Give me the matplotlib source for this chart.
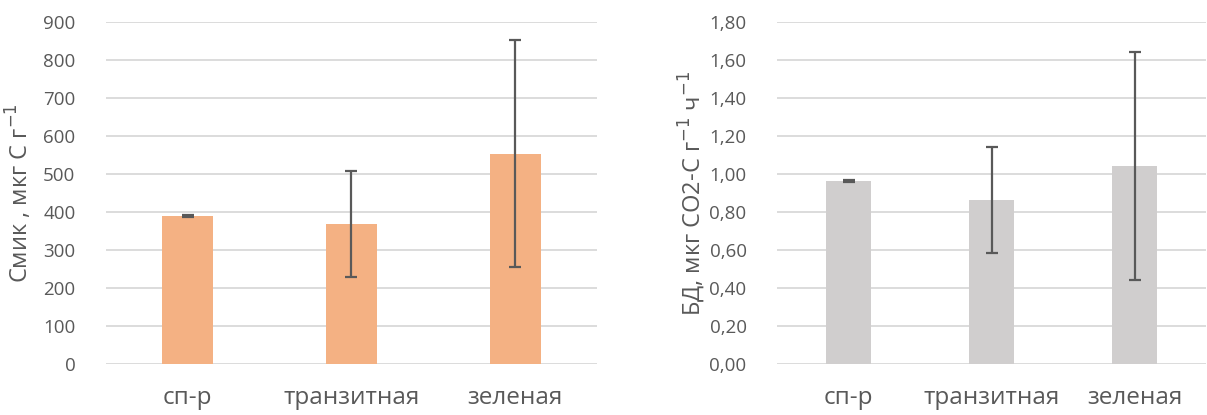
import matplotlib.pyplot as plt
from matplotlib.ticker import FuncFormatter

# data
categories = ['сп-р', 'транзитная', 'зеленая']
cmic = [390, 368, 554]
cmic_err = [3, 140, 300]
bd = [0.963, 0.863, 1.044]
bd_err = [0.003, 0.28, 0.60]

text_col = '#595959'
grid_col = '#D9D9D9'

plt.rcParams['font.family'] = ['Open Sans', 'DejaVu Sans']

fig = plt.figure(figsize=(12.07, 4.15), dpi=100)
ax1 = fig.add_axes([0.0878, 0.1229, 0.4068, 0.824])
ax2 = fig.add_axes([0.6438, 0.1229, 0.3554, 0.824])


def style(ax):
    ax.set_axisbelow(True)
    ax.yaxis.grid(True, color=grid_col, linewidth=1.3)
    for s in ax.spines.values():
        s.set_visible(False)
    ax.tick_params(axis='both', length=0, colors=text_col)
    ax.tick_params(axis='y', pad=22, labelsize=13.5)
    ax.tick_params(axis='x', pad=16, labelsize=17.5)
    ax.set_xlim(-0.5, len(categories) - 0.5)


x = range(len(categories))
ax1.bar(x, cmic, width=0.31, color='#F4B183', zorder=2)
ax1.errorbar(x, cmic, yerr=cmic_err, fmt='none', ecolor=text_col,
             elinewidth=1.6, capsize=4.3, capthick=1.6, zorder=3)
ax1.set_ylim(0, 900)
ax1.set_yticks(range(0, 901, 100))
ax1.set_xticks(list(x))
ax1.set_xticklabels(categories)
style(ax1)
ax1.set_ylabel('Смик , мкг С г$^{-1}$', fontsize=17, color=text_col, labelpad=6)

ax2.bar(x, bd, width=0.31, color='#D0CECE', zorder=2)
ax2.errorbar(x, bd, yerr=bd_err, fmt='none', ecolor=text_col,
             elinewidth=1.6, capsize=4.3, capthick=1.6, zorder=3)
ax2.set_ylim(0, 1.8)
ax2.set_yticks([i * 0.2 for i in range(10)])
ax2.yaxis.set_major_formatter(FuncFormatter(lambda v, p: f'{v:.2f}'.replace('.', ',')))
ax2.set_xticks(list(x))
ax2.set_xticklabels(categories)
style(ax2)
ax2.set_ylabel('БД, мкг СО2-С г$^{-1}$ ч$^{-1}$', fontsize=17, color=text_col, labelpad=2)

plt.savefig('out.png', dpi=100)
